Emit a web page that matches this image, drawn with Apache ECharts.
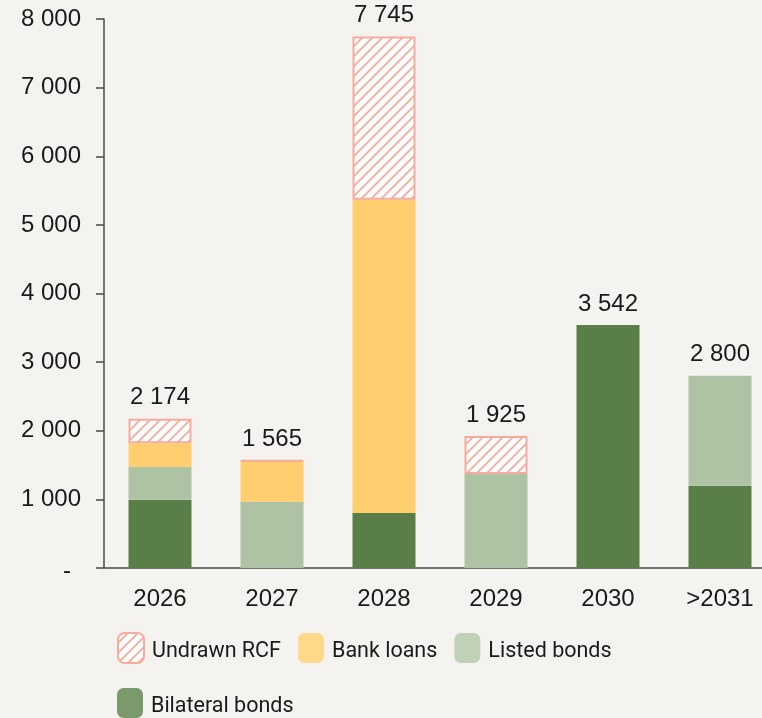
<!DOCTYPE html>
<html><head><meta charset="utf-8">
<script src="https://cdn.jsdelivr.net/npm/echarts@6/dist/echarts.min.js"></script>
<style>html,body{margin:0;padding:0;background:#f4f3ef;}#c{width:762px;height:718px;}</style>
</head><body><div id="c"></div>
<script>
const categories = ['2026','2027','2028','2029','2030','>2031'];
const bilateralBonds = [995, null, 802, null, 3542, 1200];
const listedBonds = [478, 967, null, 1370, null, 1600];
const bankLoans = [345, 593, 4563, null, null, null];
const undrawnRCF = [356, 5, 2380, 555, null, null];
const totals = [2174, 1565, 7745, 1925, 3542, 2800];
const yTicks = [0, 1000, 2000, 3000, 4000, 5000, 6000, 7000, 8000];

function fmt(v){ return String(v).replace(/\B(?=(\d{3})+(?!\d))/g, ' '); }

const pc = document.createElement('canvas');
pc.width = 10; pc.height = 10;
const g = pc.getContext('2d');
g.fillStyle = '#ffffff'; g.fillRect(0,0,10,10);
g.strokeStyle = '#f5ab9d'; g.lineWidth = 1.8;
g.beginPath();
g.moveTo(-2, 12); g.lineTo(12, -2);
g.moveTo(-7, 7); g.lineTo(7, -7);
g.moveTo(3, 17); g.lineTo(17, 3);
g.stroke();

const FONT = '"Liberation Sans", Arial, sans-serif';
const LFONT = 'Roboto, "Liberation Sans", sans-serif';
const legendText = { fontSize: 21.5, color: '#1a1a1a', fontFamily: LFONT,
  rich: { a: { fontSize: 21.5, color: '#1a1a1a', fontFamily: LFONT, padding: [7, 0, 0, 3] } } };
const legendFmt = name => '{a|' + name + '}';
const chart = echarts.init(document.getElementById('c'));
chart.setOption({
  backgroundColor: '#f4f3ef',
  animation: false,
  textStyle: { fontFamily: FONT },
  grid: { left: 104, top: 19, width: 672, height: 549, outerBoundsMode: 'none' },
  legend: [{
    left: 117, top: 632, padding: 0, itemWidth: 26, itemHeight: 30, itemGap: 17,
    textStyle: legendText, formatter: legendFmt,
    data: [
      { name: 'Undrawn RCF' },
      { name: 'Bank loans', itemStyle: { color: '#fed98a' } },
      { name: 'Listed bonds', itemStyle: { color: '#c1d1b8' } }
    ]
  }, {
    left: 117, top: 688, padding: 0, itemWidth: 26, itemHeight: 30,
    textStyle: legendText, formatter: legendFmt,
    data: [ { name: 'Bilateral bonds', itemStyle: { color: '#7a9a6b' } } ]
  }],
  xAxis: {
    type: 'category', data: categories,
    axisLine: { lineStyle: { color: '#4a4a4a', width: 1.5 } },
    axisTick: { show: false },
    axisLabel: { fontSize: 24, color: '#1a1a1a', margin: 19, fontFamily: FONT }
  },
  yAxis: {
    type: 'value', min: yTicks[0], max: yTicks[yTicks.length-1], interval: 1000,
    splitLine: { show: false },
    axisLine: { show: true, lineStyle: { color: '#4a4a4a', width: 1.5 } },
    axisTick: { show: true, length: 8, lineStyle: { color: '#4a4a4a', width: 1.5 } },
    axisLabel: {
      fontSize: 24, color: '#1a1a1a', margin: 23, fontFamily: FONT,
      formatter: v => v === 0 ? '{d|-}' : fmt(v),
      rich: { d: { fontSize: 24, color: '#1a1a1a', padding: [6, 10, 0, 0] } }
    }
  },
  series: [
    { name: 'Bilateral bonds', type: 'bar', stack: 't', barWidth: 63, data: bilateralBonds,
      itemStyle: { color: '#5a7e48' } },
    { name: 'Listed bonds', type: 'bar', stack: 't', data: listedBonds,
      itemStyle: { color: '#aec3a4' } },
    { name: 'Bank loans', type: 'bar', stack: 't', data: bankLoans,
      itemStyle: { color: '#ffcf6f' } },
    { name: 'Undrawn RCF', type: 'bar', stack: 't', data: undrawnRCF,
      itemStyle: { color: { image: pc, repeat: 'repeat' }, borderColor: '#f5ab9d', borderWidth: 2 } },
    { name: 'total', type: 'bar', stack: 't', data: totals.map(() => 0), silent: true,
      itemStyle: { color: 'transparent' },
      label: { show: true, position: 'top', distance: 9, fontSize: 24, color: '#1a1a1a', fontFamily: FONT,
        formatter: p => fmt(totals[p.dataIndex]) } }
  ]
});
</script></body></html>
